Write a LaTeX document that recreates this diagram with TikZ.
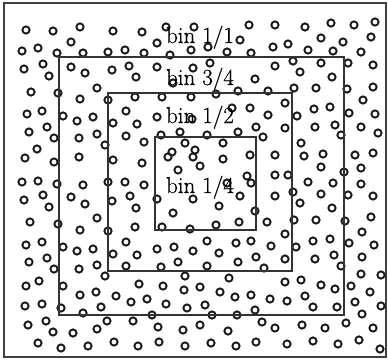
\documentclass[tikz,border=0pt]{standalone}
\usepackage{fontspec}
\newfontfamily\labfont{Latin Modern Roman}[FakeBold=0.6]
\begin{document}
\begin{tikzpicture}[x=1pt,y=-1pt,
  dot/.style={draw=black!90,line width=1.9pt},
  binbox/.style={draw=black!80,line width=2.8pt},
  frame/.style={draw=black!75,line width=2pt},
  lab/.style={font=\labfont\fontsize{23}{23}\selectfont,anchor=base,inner sep=0pt}]
\useasboundingbox (0,0) rectangle (388,359);
\fill[white] (0,0) rectangle (388,359);
\draw[frame] (4,3) rectangle (386,357);
\foreach \x/\y in {
26/30,53/31,80/27,113/31,142/32,166/27,71/42,157/43,
22/51,38/48,57/53,83/53,108/52,125/50,144/53,170/55,191/50,
24/69,43/64,49/76,71/67,85/73,112/70,129/66,136/77,157/67,173/83,193/68,
31/92,58/93,97/88,80/99,108/100,135/97,162/97,191/97,
27/114,42/111,63/116,77/121,93/117,113/123,126/111,137/124,157/117,192/119,
29/132,47/127,54/138,79/138,97/134,105/145,126/136,144/142,161/135,180/132,185/143,
25/158,37/149,54/162,79/157,113/160,142/163,168/157,193/157,
22/182,38/181,57/184,83/185,108/182,125/182,144/185,
24/200,43/195,49/207,71/197,85/204,112/201,130/196,136/208,157/199,173/213,193/199,
30/222,58/224,80/230,97/218,108/231,135/227,162/227,190/229,
26/245,42/242,63/247,77/251,93/249,113/254,126/242,137/255,157/249,174/247,193/251,
29/262,47/258,54/269,79/269,97/265,105/276,126/266,161/267,178/262,185/276,
26/286,39/281,63/286,80/295,96/292,116/296,131/302,139/284,147/299,163/286,184/290,
25/306,42/304,61/308,83/313,101/307,152/315,166/304,187/308,
28/325,46/321,53/332,73/333,97/329,107/321,133/321,158/327,183/330,
38/343,61/348,88/346,114/342,138/346,159/342,185/346,
227/183,251/183,308/182,333/183,361/184,
219/206,240/196,255/211,275/196,293/192,300/203,321/194,332/208,348/195,373/196,
216/225,239/222,267/222,294/220,316/220,345/221,371/217,
207/241,219/253,236/243,251/241,271/246,285/234,296/247,313/241,330/239,349/243,362/232,374/245,
207/266,238/262,256/257,264/268,285/259,315/259,334/255,341/266,362/257,361/274,381/275,
229/278,200/287,220/292,235/297,251/295,270/299,285/282,301/280,287/301,305/296,321/285,335/289,351/286,370/292,
205/305,212/315,237/315,255/310,262/322,275/328,313/307,337/307,355/302,362/314,381/306,
200/325,228/331,302/325,325/328,346/323,373/328,
211/343,236/346,256/342,287/344,313/341,338/344,359/340,380/349,
194/27,249/25,275/25,305/27,331/23,354/25,375/22,
240/40,288/44,321/38,343/42,371/37,
208/47,227/52,251/53,273/47,308/50,333/51,361/52,
210/63,255/79,275/66,293/61,300/72,321/63,332/77,348/63,373/65,
216/94,238/91,268/91,294/88,316/88,347/89,373/87,363/100,
250/108,268/115,285/103,297/116,314/109,330/107,349/113,375/114,232/108,
315/127,335/125,361/127,238/132,256/127,263/137,285/128,378/133,341/135,301/143,207/135,
223/143,223/159,250/155,275/155,304/156,323/154,355/155,373/153,
275/175,288/175,321/167,344/172,361/168,
172/152,195/150,178/170,200/166,247/176}
  \draw[dot] (\x,\y) circle[radius=3.6pt];
\draw[binbox] (59,57) rectangle (344,315);
\draw[binbox] (108,93) rectangle (292,271);
\draw[binbox] (155,137) rectangle (256,230);
\node[lab] (l11) at (200,43) {bin 1/1};
\node[lab] (l34) at (200,85) {bin 3/4};
\node[lab] (l12) at (200,123) {bin 1/2};
\node[lab] (l14) at (200,193) {bin 1/4};
\end{tikzpicture}
\end{document}
